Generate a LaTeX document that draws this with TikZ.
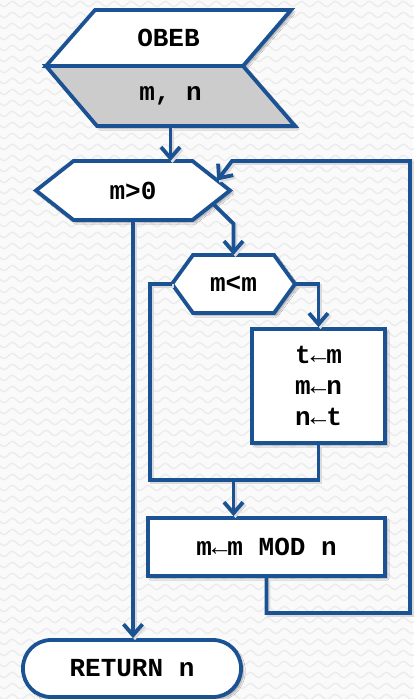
\documentclass[tikz,border=0pt]{standalone}
\usepackage{fontspec}
\setmonofont{Liberation Mono}
\usetikzlibrary{arrows.meta,calc,shadows.blur,backgrounds,decorations.pathmorphing}

\definecolor{flowblue}{RGB}{26,82,148}
\definecolor{iogray}{RGB}{204,204,204}
\definecolor{paper}{RGB}{250,250,250}
\definecolor{wave}{RGB}{236,236,236}

\begin{document}
\begin{tikzpicture}[x=1pt,y=-1pt,
  outline/.style={draw=flowblue, line width=3.8pt, fill=white,
    blur shadow={shadow xshift=2.5pt, shadow yshift=-2.5pt, shadow blur steps=6, shadow opacity=35}},
  boxnode/.style={outline, rectangle, inner sep=0pt},
  holder/.style={rectangle, draw=none, inner sep=0pt, outer sep=0pt},
  txt/.style={font=\fontsize{26}{31}\selectfont\ttfamily\bfseries, align=center},
  link/.style={draw=flowblue, line width=3.8pt, line join=miter,
    preaction={draw=black!14, line width=3.8pt, transform canvas={xshift=2pt, yshift=-2pt}}},
  flow/.style={link, -{Straight Barb[length=11pt, width=19pt]}}
]
\useasboundingbox (0,0) rectangle (413,699);

% ---- nodes ----
\node[holder, txt, minimum width=245pt, minimum height=56pt] (title) at (168.5,38) {OBEB};
\node[holder, txt, minimum width=249pt, minimum height=60pt] (args) at (170.5,96) {m,~n};
\node[holder, txt, minimum width=194pt, minimum height=59pt] (loop) at (133,190.5) {m>0};
\node[holder, txt, minimum width=123pt, minimum height=58pt] (cmp) at (233.5,284) {m<m};
\node[boxnode, txt, minimum width=133pt, minimum height=114pt] (swap) at (318.5,386)
  {t\char"2190 m\\m\char"2190 n\\n\char"2190 t};
\node[boxnode, txt, minimum width=237pt, minimum height=58pt] (mod) at (266.5,547)
  {m\char"2190 m MOD n};
\node[boxnode, txt, rounded corners=28pt, minimum width=218pt, minimum height=57pt] (ret) at (132,668.5)
  {RETURN n};

% ---- outlined shapes behind the texts ----
\begin{scope}[on background layer]
  \fill[paper] (0,0) rectangle (413,699);
  \foreach \r in {4,15,...,699}
    \draw[wave, line width=1.4pt, decorate,
          decoration={snake, segment length=17pt, amplitude=2.6pt}] (-10,\r) -- (425,\r);
  % heading and parameters
  \draw[outline] ($(title.north west)+(49,0)$) -- (title.north east)
     -- ($(title.south east)+(-48,0)$) -- (title.south west) -- cycle;
  \draw[outline, fill=iogray] (args.north west) -- ($(args.north east)+(-52,0)$)
     -- (args.south east) -- ($(args.south west)+(51,0)$) -- cycle;
  % loop test
  \draw[outline] (loop.west) -- ($(loop.north west)+(37.5,0)$) -- ($(loop.north east)+(-37.5,0)$)
     -- (loop.east) -- ($(loop.south east)+(-37.5,0)$) -- ($(loop.south west)+(37.5,0)$) -- cycle;
  % comparison
  \draw[outline] (cmp.west) -- ($(cmp.north west)+(21,0)$) -- ($(cmp.north east)+(-21,0)$)
     -- (cmp.east) -- ($(cmp.south east)+(-21,0)$) -- ($(cmp.south west)+(21,0)$) -- cycle;
\end{scope}

% ---- helper points on the slanted edges of the loop test ----
\coordinate (loopUR) at ($(loop.north east)+(-37.5,0)$);
\coordinate (loopLR) at ($(loop.south east)+(-37.5,0)$);
\coordinate (backIn) at ($(loop.east)!0.34!(loopUR)$);
\coordinate (bodyOut) at ($(loop.east)!0.45!(loopLR)$);
\coordinate (bodyBend) at ($(bodyOut)+(0,20)$);
\coordinate (join) at (233.5,480);
\coordinate (backLow) at (410,613);
\coordinate (backTop) at (410,161);
\coordinate (backCorner) at (232,161);

% ---- connectors ----
\draw[flow] (args.south) -- (args.south |- loop.north);
\draw[flow] (bodyOut) -- (cmp.north |- bodyBend) -- (cmp.north);
\draw[flow] (cmp.east) -| (swap.north);
\draw[link] (cmp.west) -- ++(-22,0) |- (join);
\draw[link] (swap.south) |- (join);
\draw[flow] (join) -- (join |- mod.north);
\draw[flow] (mod.south) |- (backLow) -- (backTop) -- (backCorner) -- (backIn);
\draw[flow] (loop.south) -- (loop.south |- ret.north);

\end{tikzpicture}
\end{document}
